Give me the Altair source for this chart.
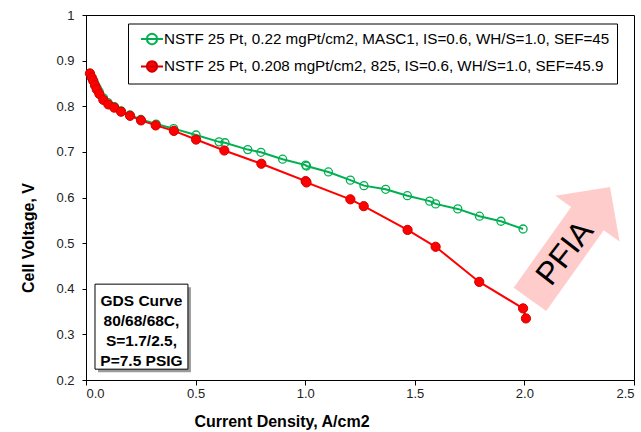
import altair as alt
import pandas as pd

green_label = "NSTF 25 Pt, 0.22 mgPt/cm2, MASC1, IS=0.6, WH/S=1.0, SEF=45"
red_label = "NSTF 25 Pt, 0.208 mgPt/cm2, 825, IS=0.6, WH/S=1.0, SEF=45.9"

green_x = [0.020, 0.030, 0.040, 0.050, 0.060, 0.080, 0.100, 0.130, 0.160, 0.200, 0.250, 0.320,
           0.400, 0.502, 0.607, 0.634, 0.738, 0.798, 0.897, 1.002, 1.006, 1.106, 1.206, 1.268,
           1.367, 1.466, 1.568, 1.595, 1.696, 1.795, 1.893, 1.994]
green_y = [0.870, 0.860, 0.850, 0.841, 0.832, 0.818, 0.808, 0.799, 0.790, 0.781, 0.771, 0.761,
           0.751, 0.737, 0.722, 0.720, 0.705, 0.699, 0.684, 0.671, 0.669, 0.656, 0.638, 0.626,
           0.618, 0.604, 0.592, 0.586, 0.575, 0.559, 0.548, 0.531]

red_x = [0.018, 0.026, 0.033, 0.041, 0.049, 0.061, 0.079, 0.102, 0.129, 0.160, 0.201, 0.251,
         0.318, 0.401, 0.502, 0.631, 0.800, 1.002, 1.006, 1.206, 1.267, 1.467, 1.595, 1.794,
         1.994, 2.007]
red_y = [0.872, 0.863, 0.856, 0.846, 0.837, 0.827, 0.814, 0.804, 0.797, 0.788, 0.779, 0.769,
         0.758, 0.746, 0.727, 0.703, 0.674, 0.636, 0.633, 0.596, 0.581, 0.529, 0.492, 0.415,
         0.357, 0.335]

x_ticks = [0.0, 0.5, 1.0, 1.5, 2.0, 2.5]
y_ticks = [0.2, 0.3, 0.4, 0.5, 0.6, 0.7, 0.8, 0.9, 1.0]

box_lines = ["GDS Curve", "80/68/68C,", "S=1.7/2.5,", "P=7.5 PSIG"]
box_x = [0.041, 0.465]
box_y = [0.2237, 0.4101]
box_text_xy = [0.253, 0.3735]

arrow_xy = [2.208, 0.500]
arrow_label = "PFIA"
arrow_text_xy = [2.185, 0.478]

FONT = "Liberation Sans"
GREEN = "#00B050"
RED = "#FF0000"
RED_EDGE = "#D00000"

dom = [green_label, red_label]
xs = alt.Scale(domain=[0, 2.5], nice=False, zero=False)
ys = alt.Scale(domain=[0.2, 1.0], nice=False, zero=False)

df_g = pd.DataFrame({"x": green_x, "y": green_y, "series": green_label})
df_r = pd.DataFrame({"x": red_x, "y": red_y, "series": red_label})

legend_path = "M-0.333,0L2.6,0M0.467,0A0.667,0.667,0,1,0,1.8,0A0.667,0.667,0,1,0,0.467,0Z"
leg = alt.Legend(
    title=None, orient="none", legendX=42, legendY=8.5,
    symbolType=legend_path, symbolSize=225, symbolStrokeWidth=2,
    labelFont=FONT, labelFontSize=15.2, labelColor="black", labelLimit=700,
    labelOffset=12, padding=7, rowPadding=8.4,
    strokeColor="black", fillColor="white", cornerRadius=0,
)

x_enc = alt.X("x:Q", scale=xs, axis=alt.Axis(
    title="Current Density, A/cm2", values=x_ticks, format=".1f", tickSize=5,
    labelPadding=2, titleX=195.5, titleY=41, titleBaseline="middle", titleAlign="center"))
y_enc = alt.Y("y:Q", scale=ys, axis=alt.Axis(
    title="Cell Voltage, V", values=y_ticks, format="~g", tickSize=4, labelPadding=8,
    titleX=-58, titleY=222.5, titleBaseline="middle", titleAlign="center", titleAngle=270))

line_color = alt.Color("series:N", scale=alt.Scale(domain=dom, range=[GREEN, RED]), legend=None)
stroke_enc = alt.Stroke("series:N", scale=alt.Scale(domain=dom, range=[GREEN, RED_EDGE]), legend=leg)
fill_enc = alt.Fill("series:N", scale=alt.Scale(domain=dom, range=["transparent", RED]), legend=leg)

g_line = alt.Chart(df_g).mark_line(strokeWidth=2).encode(x=x_enc, y=y_enc, color=line_color)
g_pts = alt.Chart(df_g).mark_point(filled=True, size=64, opacity=1).encode(
    x="x:Q", y="y:Q", stroke=stroke_enc, fill=fill_enc, strokeWidth=alt.value(1.3))
r_line = alt.Chart(df_r).mark_line(strokeWidth=2).encode(x="x:Q", y="y:Q", color=line_color)
r_pts = alt.Chart(df_r).mark_point(filled=True, size=85, opacity=1).encode(
    x="x:Q", y="y:Q", stroke=stroke_enc, fill=fill_enc, strokeWidth=alt.value(1))

arrow_df = pd.DataFrame({"x": [arrow_xy[0]], "y": [arrow_xy[1]]})
arrow_path = "M0,-1L0.572,-0.435L0.29,-0.435L0.29,1L-0.29,1L-0.29,-0.435L-0.572,-0.435Z"
arrow = alt.Chart(arrow_df).mark_point(
    shape=arrow_path, size=19044, angle=35.5, filled=True, fill="#FFCCCC",
    strokeWidth=0, opacity=1).encode(x="x:Q", y="y:Q")

arrow_txt_df = pd.DataFrame({"x": [arrow_text_xy[0]], "y": [arrow_text_xy[1]], "t": [arrow_label]})
arrow_txt = alt.Chart(arrow_txt_df).mark_text(
    font=FONT, fontSize=32, angle=308, color="black", align="center", baseline="middle"
).encode(x="x:Q", y="y:Q", text="t:N")

box_df = pd.DataFrame({"x": [box_x[0]], "x2": [box_x[1]], "y": [box_y[0]], "y2": [box_y[1]]})
box_shadow = alt.Chart(box_df).mark_rect(
    fill="#9a9a9a", xOffset=3, x2Offset=3, yOffset=3, y2Offset=3
).encode(x="x:Q", x2="x2", y="y:Q", y2="y2")
box = alt.Chart(box_df).mark_rect(fill="white", stroke="black", strokeWidth=1).encode(
    x="x:Q", x2="x2", y="y:Q", y2="y2")
box_txt_df = pd.DataFrame({"x": [box_text_xy[0]], "y": [box_text_xy[1]]})
box_txt = alt.Chart(box_txt_df).mark_text(
    font=FONT, fontSize=15.5, fontWeight="bold", color="black", lineHeight=20,
    align="center", baseline="middle"
).encode(x="x:Q", y="y:Q", text=alt.value(box_lines))

chart = alt.layer(
    g_line, arrow, arrow_txt, box_shadow, box, box_txt, g_pts, r_line, r_pts
).resolve_scale(color="independent").properties(
    width=548, height=365,
    autosize=alt.AutoSizeParams(type="none"),
    padding={"left": 86, "top": 15, "right": 7, "bottom": 52},
    background="white",
).configure_view(stroke="black", strokeWidth=1).configure_axis(
    domainColor="black", tickColor="black", labelColor="#222", labelFont=FONT,
    labelFontSize=13, grid=False, titleFont=FONT, titleFontSize=16,
    titleFontWeight="bold", titleColor="black",
)

chart.save("out.html", embed_options={"renderer": "svg", "actions": False})
